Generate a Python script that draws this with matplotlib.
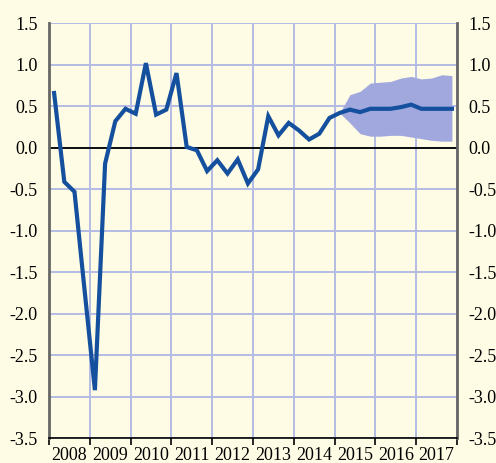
import matplotlib.pyplot as plt
from matplotlib.ticker import FixedLocator, NullFormatter, FixedFormatter
import numpy as np

plt.rcParams['font.family'] = ['Liberation Serif', 'DejaVu Serif']
plt.rcParams['axes.unicode_minus'] = False

years = list(range(2008, 2018))

# quarterly growth, 2008Q1 - 2017Q4
growth = [0.66, -0.41, -0.53, -1.73,
          -2.92, -0.19, 0.32, 0.47,
          0.41, 1.02, 0.40, 0.46,
          0.90, 0.01, -0.03, -0.28,
          -0.15, -0.31, -0.14, -0.43,
          -0.26, 0.38, 0.15, 0.30,
          0.21, 0.10, 0.17, 0.36,
          0.42, 0.46, 0.43, 0.47,
          0.47, 0.47, 0.49, 0.52,
          0.47, 0.47, 0.47, 0.47]

# forecast band, 2015Q1 - 2017Q4
band_upper = [0.42, 0.64, 0.68, 0.78, 0.79, 0.80, 0.84, 0.86, 0.83, 0.84, 0.88, 0.87]
band_lower = [0.42, 0.30, 0.17, 0.14, 0.14, 0.15, 0.15, 0.13, 0.11, 0.09, 0.08, 0.08]

bg = '#fefce4'
line_col = '#15509f'
band_col = '#a0a8de'
grid_col = '#b4bce6'

x = 2008 + (np.arange(len(growth)) + 0.5) / 4
xb = x[-len(band_upper):]

fig = plt.figure(figsize=(4.96, 4.63), dpi=100, facecolor=bg)
ax = fig.add_axes([49/496, 1 - 438.3/463, 408/496, 415/463], facecolor=bg)

ax.fill_between(xb, band_lower, band_upper, color=band_col, lw=0, zorder=2)
ax.plot(x, growth, color=line_col, lw=3, zorder=3, solid_joinstyle='miter')
ax.axhline(0, color='black', lw=1.3, zorder=2.5)

ax.set_xlim(2008, 2018)
ax.set_ylim(-3.5, 1.5)

yt = np.arange(-3.5, 1.51, 0.5)
ax.set_yticks(yt)
ax.set_yticklabels([f'{v:.1f}' for v in yt])
ax.tick_params(axis='y', length=0, labelsize=13, pad=8, left=True, right=True,
               labelleft=True, labelright=True)

ax.xaxis.set_major_locator(FixedLocator(range(2008, 2019)))
ax.xaxis.set_major_formatter(NullFormatter())
ax.xaxis.set_minor_locator(FixedLocator([y + 0.5 for y in years]))
ax.xaxis.set_minor_formatter(FixedFormatter([str(y) for y in years]))
ax.tick_params(axis='x', which='major', length=5, width=1.2, color='black', direction='out')
ax.tick_params(axis='x', which='minor', length=0, labelsize=13, pad=6)

ax.grid(True, which='major', color=grid_col, lw=1.4, zorder=1)
ax.set_axisbelow(True)

for s in ['left', 'right']:
    ax.spines[s].set_color('#666666')
    ax.spines[s].set_linewidth(2)
ax.spines['top'].set_visible(False)
ax.spines['bottom'].set_color('black')
ax.spines['bottom'].set_linewidth(1.2)

fig.savefig('out.png', dpi=100, facecolor=bg)
